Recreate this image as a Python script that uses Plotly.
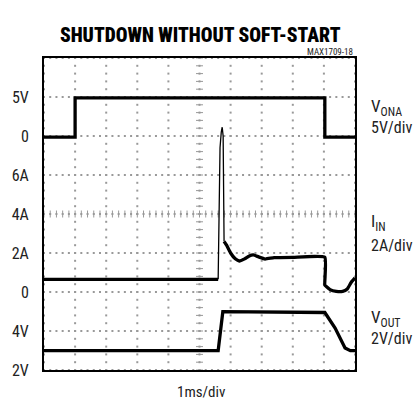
import numpy as np
import plotly.graph_objects as go

# ---- data (time in ms, 1 ms/div) ----
vona_t = [0.0, 1.0, 1.0, 9.03, 9.03, 10.0]
vona_v = [-0.15, -0.15, 4.9, 4.9, -0.15, -0.15]

iin_pre_t = [0.0, 5.60]
iin_pre_a = [0.65, 0.65]
iin_spike_t = [5.60, 5.62, 5.66, 5.70, 5.73, 5.76, 5.77, 5.78, 5.79]
iin_spike_a = [0.65, 4.0, 7.4, 8.2, 8.45, 8.0, 6.5, 4.0, 2.6]
iin_post_t = [5.79, 5.87, 6.0, 6.15, 6.28, 6.45, 6.6, 6.73, 6.9, 7.11, 7.4, 8.0, 9.03, 9.03, 9.08, 9.2, 9.4, 9.6, 9.75, 9.88, 10.0]
iin_post_a = [2.6, 2.4, 2.0, 1.7, 1.59, 1.7, 1.85, 1.9, 1.8, 1.69, 1.76, 1.78, 1.78, 0.35, 0.28, 0.12, 0.03, 0.03, 0.15, 0.5, 0.72]

vout_t = [0.0, 5.60, 5.75, 9.03, 9.36, 9.68, 9.85, 10.0]
vout_v = [2.99, 2.99, 4.99, 4.95, 4.15, 3.13, 2.99, 2.99]

y_tickvals = [0, 1, 2, 3, 4, 5, 6, 7]
y_ticktext = ["2V", "4V", "0", "2A", "4A", "6A", "0", "5V"]

# channel scaling to screen divisions
def vona_div(v): return [6 + x / 5.0 for x in v]
def iin_div(a): return [2 + x / 2.0 for x in a]
def vout_div(v): return [(x - 2.0) / 2.0 for x in v]

FONT = "Roboto Condensed, Open Sans Condensed, sans-serif"
GRID = "#999999"

fig = go.Figure()

# dotted graticule
gx, gy = [], []
for xi in range(0, 11):
    for yy in np.arange(0, 8.001, 0.2):
        gx.append(xi); gy.append(yy)
for yi in range(0, 9):
    for xx in np.arange(0, 10.001, 0.2):
        gx.append(xx); gy.append(yi)
fig.add_trace(go.Scatter(x=gx, y=gy, mode="markers",
                         marker=dict(size=2, color=GRID, symbol="square"),
                         hoverinfo="skip", showlegend=False))
# center-line minor ticks
cy = np.arange(0, 8.001, 0.2)
fig.add_trace(go.Scatter(x=[5] * len(cy), y=cy, mode="markers",
                         marker=dict(symbol="line-ew", size=5, line=dict(width=1, color=GRID)),
                         hoverinfo="skip", showlegend=False))
cx = np.arange(0, 10.001, 0.2)
fig.add_trace(go.Scatter(x=cx, y=[4] * len(cx), mode="markers",
                         marker=dict(symbol="line-ns", size=5, line=dict(width=1, color=GRID)),
                         hoverinfo="skip", showlegend=False))

TW = 3.3
fig.add_trace(go.Scatter(x=vona_t, y=vona_div(vona_v), mode="lines",
                         line=dict(color="black", width=TW), showlegend=False))
fig.add_trace(go.Scatter(x=iin_pre_t, y=iin_div(iin_pre_a), mode="lines",
                         line=dict(color="black", width=TW), showlegend=False))
fig.add_trace(go.Scatter(x=iin_spike_t, y=iin_div(iin_spike_a), mode="lines",
                         line=dict(color="black", width=1.3), showlegend=False))
fig.add_trace(go.Scatter(x=iin_post_t, y=iin_div(iin_post_a), mode="lines",
                         line=dict(color="black", width=TW, shape="spline", smoothing=0.4),
                         showlegend=False))
fig.add_trace(go.Scatter(x=vout_t, y=vout_div(vout_v), mode="lines",
                         line=dict(color="black", width=TW), showlegend=False))

fig.update_layout(
    width=417, height=402,
    margin=dict(l=44, r=62, t=58, b=32),
    paper_bgcolor="white", plot_bgcolor="white",
    xaxis=dict(range=[0, 10], showgrid=False, zeroline=False, showticklabels=False,
               ticks="", showline=True, mirror=True, linewidth=2, linecolor="black"),
    yaxis=dict(range=[0, 8], showgrid=False, zeroline=False, tickvals=y_tickvals,
               ticktext=y_ticktext, ticks="", ticklabelstandoff=10,
               tickfont=dict(family=FONT, size=16, color="#222"),
               showline=True, mirror=True, linewidth=2, linecolor="black"),
    font=dict(family=FONT, color="#222"),
)

ann = []
ann.append(dict(text="SHUTDOWN WITHOUT SOFT-START", xref="paper", yref="paper",
                x=0.503, y=1.0, yshift=23, xanchor="center", yanchor="middle",
                showarrow=False, font=dict(family=FONT, size=19.5, color="black", weight=900)))
ann.append(dict(text="MAX1709-18", xref="paper", yref="paper", x=1.0, y=1.0, yshift=6,
                xanchor="right", yanchor="middle", showarrow=False,
                font=dict(family=FONT, size=9, color="#222")))
ann.append(dict(text="1ms/div", xref="paper", yref="paper", x=0.508, y=0, yshift=-22,
                xanchor="center", yanchor="middle", showarrow=False,
                font=dict(family=FONT, size=15, color="#222")))
rx = (369 - 44) / 311.0
for main, sub, y1 in [("V", "ONA", 6.74), ("I", "IN", 3.78), ("V", "OUT", 1.33)]:
    ann.append(dict(text=f"{main}<sub>{sub}</sub>", xref="paper", yref="y", x=rx, y=y1,
                    xanchor="left", yanchor="middle", showarrow=False,
                    font=dict(family=FONT, size=17, color="#222")))
for txt, y2 in [("5V/div", 6.21), ("2A/div", 3.18), ("2V/div", 0.81)]:
    ann.append(dict(text=txt, xref="paper", yref="y", x=rx, y=y2,
                    xanchor="left", yanchor="middle", showarrow=False,
                    font=dict(family=FONT, size=16, color="#222")))
fig.update_layout(annotations=ann)

fig.write_html("out.html", config={"displayModeBar": False},
               post_script="document.body.style.margin='0';")
